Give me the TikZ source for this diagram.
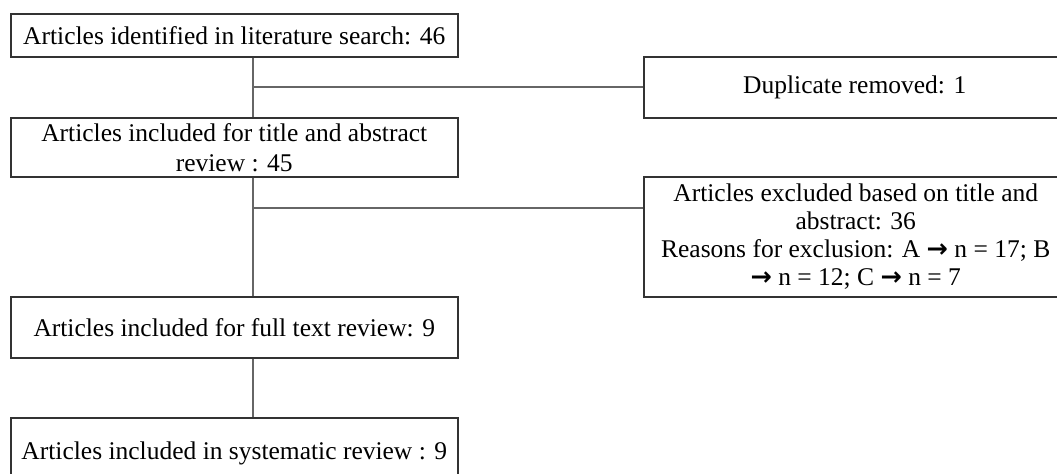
\documentclass[tikz,border=0pt]{standalone}
\usepackage{fontspec}
\setmainfont{Liberation Serif}
\newfontfamily\arrfont{DejaVu Sans}
\newcommand{\myarr}{{\arrfont\bfseries →}}
\newcommand{\fs}{\fontsize{12.75pt}{15pt}\selectfont}
\tikzset{
  box/.style={draw=black!80, line width=0.75pt, inner sep=0pt, align=center, font=\fs, anchor=north west},
  conn/.style={draw=black!60, line width=0.75pt}
}
\begin{document}
\begin{tikzpicture}[x=0.5pt,y=-0.5pt]
\useasboundingbox (0,0) rectangle (1057,473);
\clip (0,0) rectangle (1057,473);
\node[box, minimum width=223.5pt, minimum height=21.5pt] (b1) at (10,13) {Articles identified in literature search: 46};
\node[box, minimum width=223.5pt, minimum height=29.5pt] (b2) at (10,117) {Articles included for title and abstract\\review : 45};
\node[box, minimum width=223.5pt, minimum height=30.5pt] (b3) at (10,296) {Articles included for full text review: 9};
\node[box, minimum width=223.5pt, minimum height=36pt] (b4) at (10,417) {Articles included in systematic review : 9};
\node[box, minimum width=211pt, minimum height=30.5pt] (dup) at (643,56) {Duplicate removed: 1};
\node[box, minimum width=212pt, minimum height=60pt, font=\fontsize{12.75pt}{14.1pt}\selectfont] (excl) at (643,176) {Articles excluded based on title and\\abstract: 36\\Reasons for exclusion: A \myarr{} n = 17; B\\\myarr{} n = 12; C \myarr{} n = 7};
\coordinate (v) at (253,0);
\coordinate (h1) at (643,87);
\coordinate (h2) at (643,208);
\draw[conn] (v |- b1.south) -- (v |- b2.north);
\draw[conn] (v |- h1) -- (h1);
\draw[conn] (v |- b2.south) -- (v |- b3.north);
\draw[conn] (v |- h2) -- (h2);
\draw[conn] (v |- b3.south) -- (v |- b4.north);
\end{tikzpicture}
\end{document}
